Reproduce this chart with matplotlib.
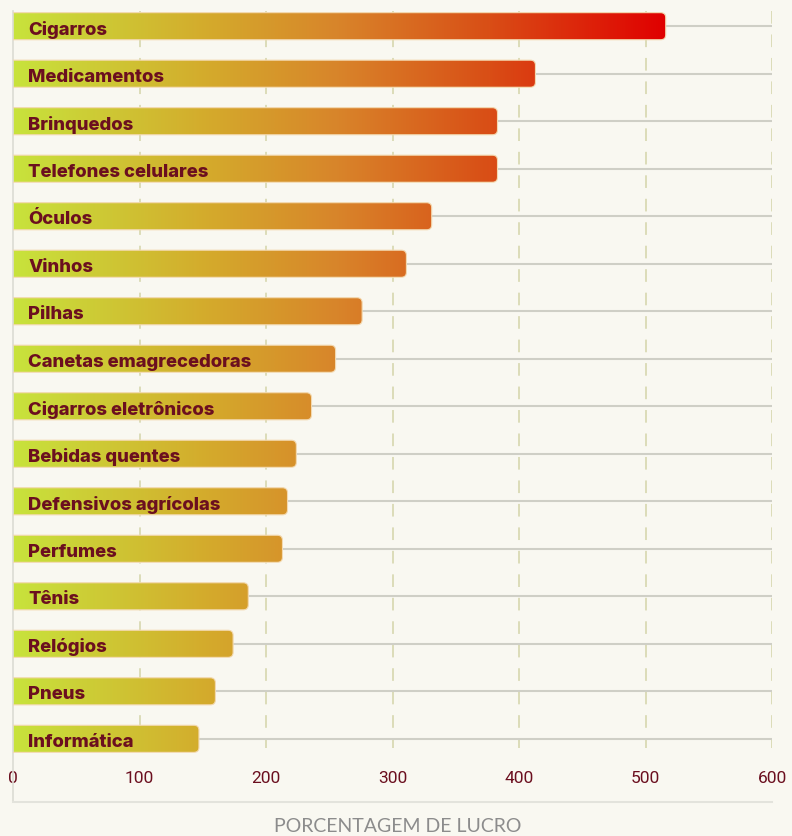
import numpy as np
import matplotlib.pyplot as plt
from matplotlib.colors import LinearSegmentedColormap
from matplotlib.patches import FancyBboxPatch

categorias = ['Cigarros', 'Medicamentos', 'Brinquedos', 'Telefones celulares', 'Óculos',
              'Vinhos', 'Pilhas', 'Canetas emagrecedoras', 'Cigarros eletrônicos',
              'Bebidas quentes', 'Defensivos agrícolas', 'Perfumes', 'Tênis',
              'Relógios', 'Pneus', 'Informática']
lucro = [516, 413, 383, 383, 331, 311, 276, 255, 236, 224, 217, 213, 186, 174, 160, 147]
ticks = [0, 100, 200, 300, 400, 500, 600]

fundo = '#f9f8f1'
vinho = '#6b0f1f'
cmap = LinearSegmentedColormap.from_list('lucro', [
    (0.0, '#c8e33c'), (0.3, '#d4aa2c'), (0.5, '#d8842a'),
    (0.73, '#d94e16'), (1.0, '#e00000')])

fig = plt.figure(figsize=(7.92, 8.37), dpi=100, facecolor=fundo)
ax = fig.add_axes([13 / 792, 34 / 837, 759 / 792, 791 / 837])
ax.set_facecolor(fundo)

y = np.arange(len(categorias))
h = 0.57

# grade tracejada
ax.vlines(ticks[1:], -0.32, len(categorias) - 1 + 0.2, colors='#d9d9b4',
          linestyles=(0, (7, 6)), lw=1.3, zorder=0)
# trilho cinza atrás de cada barra
ax.hlines(y, 0, 600, colors='#cfcfc6', lw=1.5, zorder=1)

gradiente = np.linspace(0, 1, 512).reshape(1, -1)
vmax = max(lucro)
for yi, v, nome in zip(y, lucro, categorias):
    caixa = FancyBboxPatch((-6, yi - h / 2), v + 6, h,
                           boxstyle='round,pad=0,rounding_size=4',
                           mutation_aspect=0.105 / 4,
                           fc='none', ec='#f3d9b0', lw=0.8, zorder=3)
    ax.add_patch(caixa)
    im = ax.imshow(gradiente, cmap=cmap, aspect='auto', extent=(0, vmax, yi + h / 2, yi - h / 2),
                   zorder=2, interpolation='bilinear')
    im.set_clip_path(caixa)
    ax.text(12, yi + 0.05, nome, color=vinho, fontsize=13.3, fontweight='heavy',
            family=['Inter', 'DejaVu Sans'], va='center', ha='left', zorder=4)

ax.set_ylim(16.33, -0.32)
ax.set_xlim(0, 600)
ax.set_yticks([])
ax.set_xticks(ticks)
ax.set_xticklabels([str(t) for t in ticks], color=vinho, fontsize=12.5,
                   family=['Liberation Sans Narrow', 'Roboto', 'DejaVu Sans'])
ax.tick_params(axis='x', length=0, pad=-23)

for s in ['top', 'right']:
    ax.spines[s].set_visible(False)
ax.spines['left'].set_color('#dcdcd4')
ax.spines['left'].set_linewidth(1.2)
ax.spines['bottom'].set_color('#e3e3dc')
ax.spines['bottom'].set_linewidth(1.5)

fig.text(398 / 792, 1 - 827 / 837, 'PORCENTAGEM DE LUCRO', color='#8c8c8c', fontsize=14,
         family=['Lato', 'DejaVu Sans'], ha='center', va='center')

fig.savefig('out.png', dpi=100, facecolor=fundo)
